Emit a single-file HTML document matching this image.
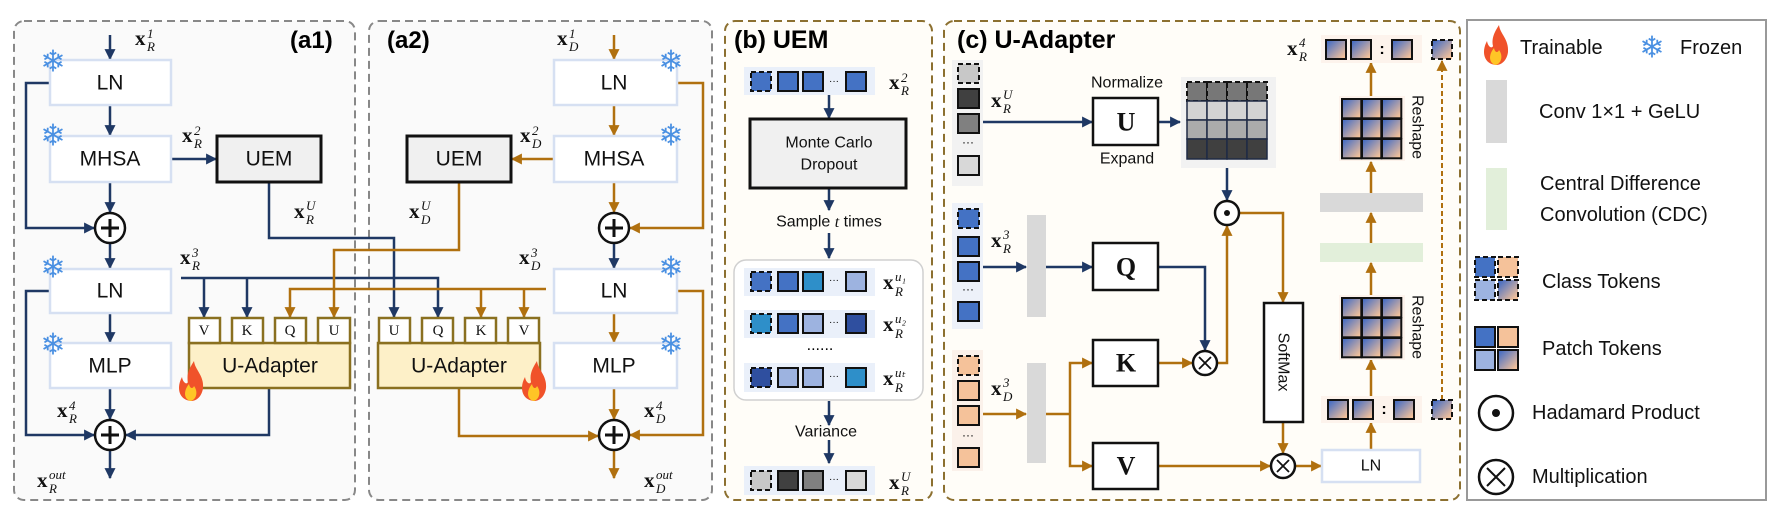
<!DOCTYPE html>
<html><head><meta charset="utf-8"><style>
html,body{margin:0;padding:0;background:#fff;}
svg{display:block;}
.sf{font-family:"Liberation Sans",sans-serif;}
.bx{font-family:"Liberation Sans",sans-serif;font-size:21px;text-anchor:middle;dominant-baseline:central;fill:#111;}
.mx{font-family:"Liberation Serif",serif;font-weight:bold;font-size:21px;fill:#111;}
.ms{font-family:"Liberation Serif",serif;font-style:italic;font-size:13px;fill:#111;}
.pt{font-family:"Liberation Serif",serif;font-size:15px;text-anchor:middle;dominant-baseline:central;fill:#111;}
.qk{font-family:"Liberation Serif",serif;font-weight:bold;font-size:26px;text-anchor:middle;dominant-baseline:central;fill:#111;}
.lg{font-family:"Liberation Sans",sans-serif;font-size:20px;fill:#111;dominant-baseline:central;}
.sm{font-family:"Liberation Sans",sans-serif;font-size:16px;fill:#111;text-anchor:middle;dominant-baseline:central;}
.snow{font-family:"DejaVu Sans",sans-serif;font-size:30px;fill:#4a90e2;text-anchor:middle;dominant-baseline:central;}
.b{stroke:#1f3864;stroke-width:2.5;fill:none;}
.o{stroke:#b0700f;stroke-width:2.5;fill:none;}
.ab{marker-end:url(#ab);}
.ao{marker-end:url(#ao);}
.lnbox{fill:#fff;stroke:#d6e0f2;stroke-width:2.5;}
.tk{stroke:#111;stroke-width:2;}
.dsh{stroke-dasharray:5,3;}
</style></head><body>
<svg width="1770" height="510" viewBox="0 0 1770 510" xmlns="http://www.w3.org/2000/svg">
<defs>
<marker id="ab" viewBox="0 0 10 10" refX="9" refY="5" markerWidth="11" markerHeight="11" markerUnits="userSpaceOnUse" orient="auto"><path d="M0,0 L10,5 L0,10z" fill="#1f3864"/></marker>
<marker id="ao" viewBox="0 0 10 10" refX="9" refY="5" markerWidth="11" markerHeight="11" markerUnits="userSpaceOnUse" orient="auto"><path d="M0,0 L10,5 L0,10z" fill="#b0700f"/></marker>
<linearGradient id="gt" x1="0" y1="0" x2="1" y2="1"><stop offset="0.1" stop-color="#4a6fc2"/><stop offset="0.9" stop-color="#f5c29a"/></linearGradient>
<g id="fire"><path d="M0,19 C-12,18 -15,6 -9,-5 C-8,1 -4,3 -3,0 C-5,-9 0,-16 3,-21 C4,-12 13,-7 12,6 C11,14 6,19 0,19Z" fill="#f0522a"/><path d="M0,19 C-7,18 -8,9 -2,2 C-1,7 2,7 3,4 C7,9 6,17 0,19Z" fill="#ffc526"/></g>
<g id="plus"><circle r="15" fill="#fff" stroke="#111" stroke-width="2.5"/><path d="M-9,0 H9 M0,-9 V9" stroke="#111" stroke-width="3"/></g>
<g id="had"><circle r="12" fill="#fff" stroke="#111" stroke-width="2.5"/><circle r="3" fill="#111"/></g>
<g id="mul"><circle r="12" fill="#fff" stroke="#111" stroke-width="2.5"/><path d="M-6,-6 L6,6 M6,-6 L-6,6" stroke="#111" stroke-width="1.8"/></g>
<g id="gtok"><rect width="20" height="19" fill="url(#gt)" class="tk"/></g>
<g id="grid"><rect x="-3" y="-3" width="66" height="65" fill="#fdf3ec"/>
<rect x="0" y="0" width="19.3" height="19.3" fill="url(#gt)" class="tk"/><rect x="20" y="0" width="19.3" height="19.3" fill="url(#gt)" class="tk"/><rect x="40" y="0" width="19.3" height="19.3" fill="url(#gt)" class="tk"/>
<rect x="0" y="20" width="19.3" height="19.3" fill="url(#gt)" class="tk"/><rect x="20" y="20" width="19.3" height="19.3" fill="url(#gt)" class="tk"/><rect x="40" y="20" width="19.3" height="19.3" fill="url(#gt)" class="tk"/>
<rect x="0" y="40" width="19.3" height="19.3" fill="url(#gt)" class="tk"/><rect x="20" y="40" width="19.3" height="19.3" fill="url(#gt)" class="tk"/><rect x="40" y="40" width="19.3" height="19.3" fill="url(#gt)" class="tk"/></g>
</defs>

<!-- panels -->
<rect x="14" y="21" width="341" height="479" rx="10" fill="#fafafa" stroke="#888" stroke-width="2" stroke-dasharray="8,5"/>
<rect x="369" y="21" width="343" height="479" rx="10" fill="#fafafa" stroke="#888" stroke-width="2" stroke-dasharray="8,5"/>
<rect x="725" y="21" width="207" height="479" rx="10" fill="#fffdf8" stroke="#8c7030" stroke-width="2" stroke-dasharray="8,5"/>
<rect x="944" y="21" width="516" height="479" rx="10" fill="#fffdf8" stroke="#8c7030" stroke-width="2" stroke-dasharray="8,5"/>
<rect x="1467" y="20" width="299" height="480" fill="#fff" stroke="#999" stroke-width="2"/>

<text x="290" y="48" class="sf" font-size="24" font-weight="bold">(a1)</text>
<text x="387" y="48" class="sf" font-size="24" font-weight="bold">(a2)</text>
<text x="734" y="48" class="sf" font-size="25" font-weight="bold">(b) UEM</text>
<text x="957" y="48" class="sf" font-size="25" font-weight="bold">(c) U-Adapter</text>

<!-- a1 connectors -->
<path class="b ab" d="M110,35 V59"/>
<path class="b ab" d="M110,104 V135"/>
<path class="b ab" d="M171,159 H216"/>
<path class="b ab" d="M110,182 V212"/>
<path class="b ab" d="M50,83 H26 V228 H94"/>
<path class="b ab" d="M110,243 V268"/>
<path class="b ab" d="M50,291 H26 V435 H94"/>
<path class="b ab" d="M110,313 V342"/>
<path class="b ab" d="M110,388 V419"/>
<path class="b ab" d="M269,388 V435 H126"/>
<path class="b ab" d="M110,451 V478"/>
<path class="b ab" d="M269,182 V238 H394 V317"/>
<path class="b ab" d="M181,278 H438 V317"/>
<path class="b ab" d="M204,278 V317"/>
<path class="b ab" d="M247,278 V317"/>
<!-- a2 connectors -->
<path class="o ao" d="M614,35 V59"/>
<path class="o ao" d="M614,104 V135"/>
<path class="o ao" d="M554,159 H512"/>
<path class="o ao" d="M614,182 V212"/>
<path class="o ao" d="M677,83 H703 V228 H630"/>
<path class="b ab" d="M614,243 V268"/>
<path class="o ao" d="M677,291 H703 V435 H630"/>
<path class="o ao" d="M614,313 V342"/>
<path class="o ao" d="M614,388 V419"/>
<path class="o ao" d="M614,451 V478"/>
<path class="o ao" d="M459,388 V436 H598"/>
<path class="o ao" d="M459,182 V250 H334 V317"/>
<path class="o ao" d="M546,289 H290 V317"/>
<path class="o ao" d="M481,289 V317"/>
<path class="o ao" d="M524,289 V317"/>

<!-- a1 boxes -->
<rect x="50" y="60" width="121" height="45" class="lnbox"/><text x="110" y="83" class="bx">LN</text>
<rect x="50" y="136" width="121" height="46" class="lnbox"/><text x="110" y="159" class="bx">MHSA</text>
<rect x="217" y="136" width="104" height="46" fill="#f0f0f0" stroke="#111" stroke-width="3"/><text x="269" y="159" class="bx">UEM</text>
<use href="#plus" x="110" y="228"/>
<rect x="50" y="269" width="121" height="44" class="lnbox"/><text x="110" y="291" class="bx">LN</text>
<rect x="50" y="343" width="121" height="45" class="lnbox"/><text x="110" y="366" class="bx">MLP</text>
<use href="#plus" x="110" y="435"/>
<text x="53" y="62" class="snow">❄</text><text x="53" y="136" class="snow">❄</text><text x="53" y="268" class="snow">❄</text><text x="53" y="345" class="snow">❄</text>
<!-- left U-adapter -->
<rect x="189" y="343" width="161" height="45" fill="#fdf0c8" stroke="#8a7020" stroke-width="2.5"/>
<text x="270" y="366" class="bx">U-Adapter</text>
<rect x="189" y="318" width="31" height="25" fill="#fff" stroke="#8a7020" stroke-width="2.5"/><text x="204" y="331" class="pt">V</text>
<rect x="232" y="318" width="31" height="25" fill="#fff" stroke="#8a7020" stroke-width="2.5"/><text x="247" y="331" class="pt">K</text>
<rect x="275" y="318" width="31" height="25" fill="#fff" stroke="#8a7020" stroke-width="2.5"/><text x="290" y="331" class="pt">Q</text>
<rect x="318" y="318" width="32" height="25" fill="#fff" stroke="#8a7020" stroke-width="2.5"/><text x="334" y="331" class="pt">U</text>
<use href="#fire" x="191" y="382"/>
<!-- right U-adapter -->
<rect x="378" y="343" width="162" height="45" fill="#fdf0c8" stroke="#8a7020" stroke-width="2.5"/>
<text x="459" y="366" class="bx">U-Adapter</text>
<rect x="379" y="318" width="31" height="25" fill="#fff" stroke="#8a7020" stroke-width="2.5"/><text x="394" y="331" class="pt">U</text>
<rect x="422" y="318" width="31" height="25" fill="#fff" stroke="#8a7020" stroke-width="2.5"/><text x="438" y="331" class="pt">Q</text>
<rect x="465" y="318" width="31" height="25" fill="#fff" stroke="#8a7020" stroke-width="2.5"/><text x="481" y="331" class="pt">K</text>
<rect x="508" y="318" width="31" height="25" fill="#fff" stroke="#8a7020" stroke-width="2.5"/><text x="524" y="331" class="pt">V</text>
<use href="#fire" x="534" y="382"/>

<!-- a2 boxes -->
<rect x="554" y="60" width="123" height="45" class="lnbox"/><text x="614" y="83" class="bx">LN</text>
<rect x="554" y="136" width="123" height="46" class="lnbox"/><text x="614" y="159" class="bx">MHSA</text>
<rect x="407" y="136" width="104" height="46" fill="#f0f0f0" stroke="#111" stroke-width="3"/><text x="459" y="159" class="bx">UEM</text>
<use href="#plus" x="614" y="228"/>
<rect x="554" y="269" width="123" height="44" class="lnbox"/><text x="614" y="291" class="bx">LN</text>
<rect x="554" y="343" width="123" height="45" class="lnbox"/><text x="614" y="366" class="bx">MLP</text>
<use href="#plus" x="614" y="435"/>
<text x="671" y="62" class="snow">❄</text><text x="671" y="136" class="snow">❄</text><text x="671" y="268" class="snow">❄</text><text x="671" y="345" class="snow">❄</text>

<!-- math labels a -->
<text x="135" y="45" class="mx">x</text><text x="147" y="38" class="ms">1</text><text x="147" y="51" class="ms">R</text>
<text x="182" y="142" class="mx">x</text><text x="194" y="135" class="ms">2</text><text x="194" y="148" class="ms">R</text>
<text x="294" y="218" class="mx">x</text><text x="306" y="210" class="ms">U</text><text x="306" y="224" class="ms">R</text>
<text x="180" y="264" class="mx">x</text><text x="192" y="257" class="ms">3</text><text x="192" y="270" class="ms">R</text>
<text x="57" y="417" class="mx">x</text><text x="69" y="410" class="ms">4</text><text x="69" y="423" class="ms">R</text>
<text x="37" y="487" class="mx">x</text><text x="49" y="479" class="ms" font-size="15">out</text><text x="49" y="493" class="ms">R</text>
<text x="557" y="45" class="mx">x</text><text x="569" y="38" class="ms">1</text><text x="569" y="51" class="ms">D</text>
<text x="520" y="142" class="mx">x</text><text x="532" y="135" class="ms">2</text><text x="532" y="148" class="ms">D</text>
<text x="409" y="218" class="mx">x</text><text x="421" y="210" class="ms">U</text><text x="421" y="224" class="ms">D</text>
<text x="519" y="264" class="mx">x</text><text x="531" y="257" class="ms">3</text><text x="531" y="270" class="ms">D</text>
<text x="644" y="417" class="mx">x</text><text x="656" y="410" class="ms">4</text><text x="656" y="423" class="ms">D</text>
<text x="644" y="487" class="mx">x</text><text x="656" y="479" class="ms" font-size="15">out</text><text x="656" y="493" class="ms">D</text>

<!-- panel b -->
<path class="b ab" d="M829,95 V118"/>
<path class="b ab" d="M829,188 V210"/>
<path class="b ab" d="M829,233 V258"/>
<path class="b ab" d="M829,401 V425"/>
<path class="b ab" d="M829,440 V463"/>
<rect x="744" y="67" width="131" height="28" fill="#eaf0fa"/>
<rect x="751" y="72" width="20" height="19" fill="#4472c4" class="tk dsh"/>
<rect x="778" y="72" width="20" height="19" fill="#4472c4" class="tk"/>
<rect x="803" y="72" width="20" height="19" fill="#4472c4" class="tk"/>
<text x="834" y="84" class="sf" font-size="10" text-anchor="middle">···</text>
<rect x="846" y="72" width="20" height="19" fill="#4472c4" class="tk"/>
<text x="889" y="89" class="mx">x</text><text x="901" y="82" class="ms">2</text><text x="901" y="95" class="ms">R</text>
<rect x="750" y="119" width="156" height="69" fill="#f0f0f0" stroke="#111" stroke-width="3"/>
<text x="829" y="143" class="sm">Monte Carlo</text><text x="829" y="165" class="sm">Dropout</text>
<text x="829" y="222" class="sm">Sample <tspan font-family="Liberation Serif" font-style="italic">t</tspan> times</text>
<rect x="734" y="260" width="189" height="140" rx="12" fill="#fff" stroke="#d0d0d0" stroke-width="1.5"/>
<g>
<rect x="744" y="268" width="131" height="28" fill="#eaf0fa"/>
<rect x="751" y="272" width="20" height="19" fill="#4472c4" class="tk dsh"/><rect x="778" y="272" width="20" height="19" fill="#4472c4" class="tk"/><rect x="803" y="272" width="20" height="19" fill="#2e8fc9" class="tk"/><text x="834" y="283" class="sf" font-size="10" text-anchor="middle">···</text><rect x="846" y="272" width="20" height="19" fill="#9db3e0" class="tk"/>
<text x="883" y="289" class="mx">x</text><text x="895" y="281" class="ms">u₁</text><text x="895" y="296" class="ms">R</text>
<rect x="744" y="310" width="131" height="28" fill="#eaf0fa"/>
<rect x="751" y="314" width="20" height="19" fill="#2e8fc9" class="tk dsh"/><rect x="778" y="314" width="20" height="19" fill="#4472c4" class="tk"/><rect x="803" y="314" width="20" height="19" fill="#9db3e0" class="tk"/><text x="834" y="325" class="sf" font-size="10" text-anchor="middle">···</text><rect x="846" y="314" width="20" height="19" fill="#2f4f9f" class="tk"/>
<text x="883" y="331" class="mx">x</text><text x="895" y="323" class="ms">u₂</text><text x="895" y="338" class="ms">R</text>
<text x="820" y="350" class="sf" font-size="16" text-anchor="middle">......</text>
<rect x="744" y="363" width="131" height="29" fill="#eaf0fa"/>
<rect x="751" y="368" width="20" height="19" fill="#2f4f9f" class="tk dsh"/><rect x="778" y="368" width="20" height="19" fill="#9db3e0" class="tk"/><rect x="803" y="368" width="20" height="19" fill="#9db3e0" class="tk"/><text x="834" y="379" class="sf" font-size="10" text-anchor="middle">···</text><rect x="846" y="368" width="20" height="19" fill="#2e8fc9" class="tk"/>
<text x="883" y="385" class="mx">x</text><text x="895" y="377" class="ms">uₜ</text><text x="895" y="392" class="ms">R</text>
</g>
<text x="826" y="432" class="sm">Variance</text>
<rect x="744" y="466" width="131" height="29" fill="#eaf0fa"/>
<rect x="751" y="471" width="20" height="19" fill="#c8c8c8" class="tk dsh"/><rect x="778" y="471" width="20" height="19" fill="#404040" class="tk"/><rect x="803" y="471" width="20" height="19" fill="#808080" class="tk"/><text x="834" y="482" class="sf" font-size="10" text-anchor="middle">···</text><rect x="846" y="471" width="20" height="19" fill="#d8d8d8" class="tk"/>
<text x="889" y="489" class="mx">x</text><text x="901" y="481" class="ms">U</text><text x="901" y="495" class="ms">R</text>

<!-- panel c connectors -->
<path class="b ab" d="M983,122 H1092"/>
<path class="b ab" d="M1158,122 H1180"/>
<path class="b ab" d="M1227,168 V200"/>
<path class="b ab" d="M983,267 H1026"/>
<path class="b ab" d="M1046,267 H1092"/>
<path class="b ab" d="M1158,267 H1205 V350"/>
<path class="o ao" d="M983,414 H1026"/>
<path class="o" d="M1046,414 H1070"/>
<path class="o ao" d="M1070,414 V363 H1092"/>
<path class="o ao" d="M1070,414 V466 H1092"/>
<path class="o ao" d="M1158,363 H1192"/>
<path class="o ao" d="M1217,363 H1227 V226"/>
<path class="o ao" d="M1239,213 H1283 V302"/>
<path class="o ao" d="M1283,422 V453"/>
<path class="o ao" d="M1158,466 H1270"/>
<path class="o ao" d="M1295,466 H1321"/>
<path class="o ao" d="M1371,450 V423"/>
<path class="o ao" d="M1371,396 V360"/>
<path class="o ao" d="M1371,295 V263"/>
<path class="o ao" d="M1371,243 V213"/>
<path class="o ao" d="M1371,193 V162"/>
<path class="o ao" d="M1371,96 V63"/>
<path d="M1442,400 V61" stroke="#b0700f" stroke-width="2" fill="none" stroke-dasharray="5,3" marker-end="url(#ao)"/>

<!-- column tokens -->
<rect x="952" y="60" width="31" height="126" fill="#f2f2f2"/>
<rect x="958" y="64" width="21" height="19" fill="#c8c8c8" class="tk dsh"/>
<rect x="958" y="89" width="21" height="19" fill="#404040" class="tk"/>
<rect x="958" y="114" width="21" height="19" fill="#808080" class="tk"/>
<text x="968" y="146" class="sf" font-size="12" text-anchor="middle">···</text>
<rect x="958" y="156" width="21" height="19" fill="#d8d8d8" class="tk"/>
<text x="991" y="107" class="mx">x</text><text x="1003" y="99" class="ms">U</text><text x="1003" y="113" class="ms">R</text>
<rect x="952" y="203" width="31" height="126" fill="#edf1f9"/>
<rect x="958" y="209" width="21" height="19" fill="#4472c4" class="tk dsh"/>
<rect x="958" y="237" width="21" height="19" fill="#4472c4" class="tk"/>
<rect x="958" y="262" width="21" height="19" fill="#4472c4" class="tk"/>
<text x="968" y="293" class="sf" font-size="12" text-anchor="middle">···</text>
<rect x="958" y="302" width="21" height="19" fill="#4472c4" class="tk"/>
<text x="991" y="247" class="mx">x</text><text x="1003" y="239" class="ms">3</text><text x="1003" y="253" class="ms">R</text>
<rect x="952" y="350" width="31" height="121" fill="#fbf1ea"/>
<rect x="958" y="356" width="21" height="19" fill="#f5c29a" class="tk dsh"/>
<rect x="958" y="381" width="21" height="19" fill="#f5c29a" class="tk"/>
<rect x="958" y="406" width="21" height="19" fill="#f5c29a" class="tk"/>
<text x="968" y="439" class="sf" font-size="12" text-anchor="middle">···</text>
<rect x="958" y="448" width="21" height="19" fill="#f5c29a" class="tk"/>
<text x="991" y="395" class="mx">x</text><text x="1003" y="387" class="ms">3</text><text x="1003" y="401" class="ms">D</text>

<rect x="1027" y="215" width="19" height="102" fill="#d9d9d9"/>
<rect x="1027" y="363" width="19" height="100" fill="#d9d9d9"/>

<rect x="1093" y="98" width="65" height="47" fill="#fff" stroke="#111" stroke-width="2.5"/><text x="1126" y="122" class="qk">U</text>
<text x="1127" y="83" class="sm">Normalize</text><text x="1127" y="159" class="sm">Expand</text>
<rect x="1093" y="243" width="65" height="47" fill="#fff" stroke="#111" stroke-width="2.5"/><text x="1126" y="267" class="qk">Q</text>
<rect x="1093" y="340" width="65" height="46" fill="#fff" stroke="#111" stroke-width="2.5"/><text x="1126" y="363" class="qk">K</text>
<rect x="1093" y="443" width="65" height="46" fill="#fff" stroke="#111" stroke-width="2.5"/><text x="1126" y="466" class="qk">V</text>

<!-- matrix -->
<rect x="1181" y="77" width="95" height="91" fill="#f2f2f2"/>
<g stroke="#1f2a44" stroke-width="1.5">
<rect x="1187" y="82" width="20" height="19" fill="#777" stroke="#111" stroke-dasharray="5,3" stroke-width="2"/><rect x="1207" y="82" width="20" height="19" fill="#777" stroke="#111" stroke-dasharray="5,3" stroke-width="2"/><rect x="1227" y="82" width="20" height="19" fill="#777" stroke="#111" stroke-dasharray="5,3" stroke-width="2"/><rect x="1247" y="82" width="20" height="19" fill="#777" stroke="#111" stroke-dasharray="5,3" stroke-width="2"/>
<rect x="1187" y="101" width="20" height="19" fill="#d3d3d3"/><rect x="1207" y="101" width="20" height="19" fill="#d3d3d3"/><rect x="1227" y="101" width="20" height="19" fill="#d3d3d3"/><rect x="1247" y="101" width="20" height="19" fill="#d3d3d3"/>
<rect x="1187" y="120" width="20" height="19" fill="#ababab"/><rect x="1207" y="120" width="20" height="19" fill="#ababab"/><rect x="1227" y="120" width="20" height="19" fill="#ababab"/><rect x="1247" y="120" width="20" height="19" fill="#ababab"/>
<rect x="1187" y="139" width="20" height="20" fill="#404040"/><rect x="1207" y="139" width="20" height="20" fill="#404040"/><rect x="1227" y="139" width="20" height="20" fill="#404040"/><rect x="1247" y="139" width="20" height="20" fill="#404040"/>
</g>
<use href="#had" x="1227" y="213"/>
<use href="#mul" x="1205" y="363"/>
<use href="#mul" x="1283" y="466"/>
<rect x="1264" y="303" width="39" height="119" fill="#fff" stroke="#111" stroke-width="2.5"/>
<text transform="translate(1283,362) rotate(90)" class="sm" font-size="17">SoftMax</text>
<rect x="1322" y="450" width="98" height="32" fill="#fff" stroke="#d6e0f2" stroke-width="2.5"/>
<text x="1371" y="466" class="sm" font-size="17">LN</text>

<!-- token rows right -->
<rect x="1321" y="396" width="101" height="27" fill="#fdf3ec"/>
<use href="#gtok" x="1328" y="400"/><use href="#gtok" x="1353" y="400"/><text x="1384" y="414" class="sf" font-size="16" font-weight="bold" text-anchor="middle">:</text><use href="#gtok" x="1394" y="400"/>
<rect x="1432" y="400" width="20" height="19" fill="url(#gt)" class="tk dsh"/>
<rect x="1321" y="35" width="101" height="28" fill="#fdf3ec"/>
<use href="#gtok" x="1326" y="40"/><use href="#gtok" x="1351" y="40"/><text x="1382" y="54" class="sf" font-size="16" font-weight="bold" text-anchor="middle">:</text><use href="#gtok" x="1392" y="40"/>
<rect x="1432" y="40" width="20" height="19" fill="url(#gt)" class="tk dsh"/>
<text x="1287" y="55" class="mx">x</text><text x="1299" y="47" class="ms">4</text><text x="1299" y="61" class="ms">R</text>
<use href="#grid" x="1342" y="298"/>
<use href="#grid" x="1342" y="99"/>
<text transform="translate(1417,327) rotate(90)" class="sm" font-size="16">Reshape</text>
<text transform="translate(1417,127) rotate(90)" class="sm" font-size="16">Reshape</text>
<rect x="1320" y="243" width="103" height="19" fill="#e2efda"/>
<rect x="1320" y="193" width="103" height="19" fill="#d9d9d9"/>

<!-- legend -->
<use href="#fire" x="1496" y="46" transform="translate(0,0)"/>
<text x="1520" y="48" class="lg">Trainable</text>
<text x="1652" y="48" class="snow" font-size="34">❄</text>
<text x="1680" y="48" class="lg">Frozen</text>
<rect x="1486" y="80" width="21" height="63" fill="#d9d9d9"/>
<text x="1539" y="112" class="lg" font-size="21">Conv 1×1 + GeLU</text>
<rect x="1486" y="168" width="21" height="62" fill="#e2efda"/>
<text x="1540" y="184" class="lg" font-size="21">Central Difference</text>
<text x="1540" y="215" class="lg" font-size="21">Convolution (CDC)</text>
<rect x="1475" y="257" width="20" height="20" fill="#4472c4" class="tk dsh"/>
<rect x="1498" y="257" width="20" height="20" fill="#f5c29a" class="tk dsh"/>
<rect x="1475" y="280" width="20" height="20" fill="#9db3e0" class="tk dsh"/>
<rect x="1498" y="280" width="20" height="20" fill="url(#gt)" class="tk dsh"/>
<text x="1542" y="282" class="lg" font-size="21">Class Tokens</text>
<rect x="1475" y="327" width="20" height="20" fill="#4472c4" class="tk"/>
<rect x="1498" y="327" width="20" height="20" fill="#f5c29a" class="tk"/>
<rect x="1475" y="350" width="20" height="20" fill="#9db3e0" class="tk"/>
<rect x="1498" y="350" width="20" height="20" fill="url(#gt)" class="tk"/>
<text x="1542" y="349" class="lg" font-size="21">Patch Tokens</text>
<circle cx="1496" cy="413" r="17" fill="#fff" stroke="#111" stroke-width="2.5"/><circle cx="1496" cy="413" r="4" fill="#111"/>
<text x="1532" y="413" class="lg" font-size="21">Hadamard Product</text>
<circle cx="1496" cy="477" r="17" fill="#fff" stroke="#111" stroke-width="2.5"/><path d="M1487,468 L1505,486 M1505,468 L1487,486" stroke="#111" stroke-width="2"/>
<text x="1532" y="477" class="lg" font-size="21">Multiplication</text>
</svg>
</body></html>
